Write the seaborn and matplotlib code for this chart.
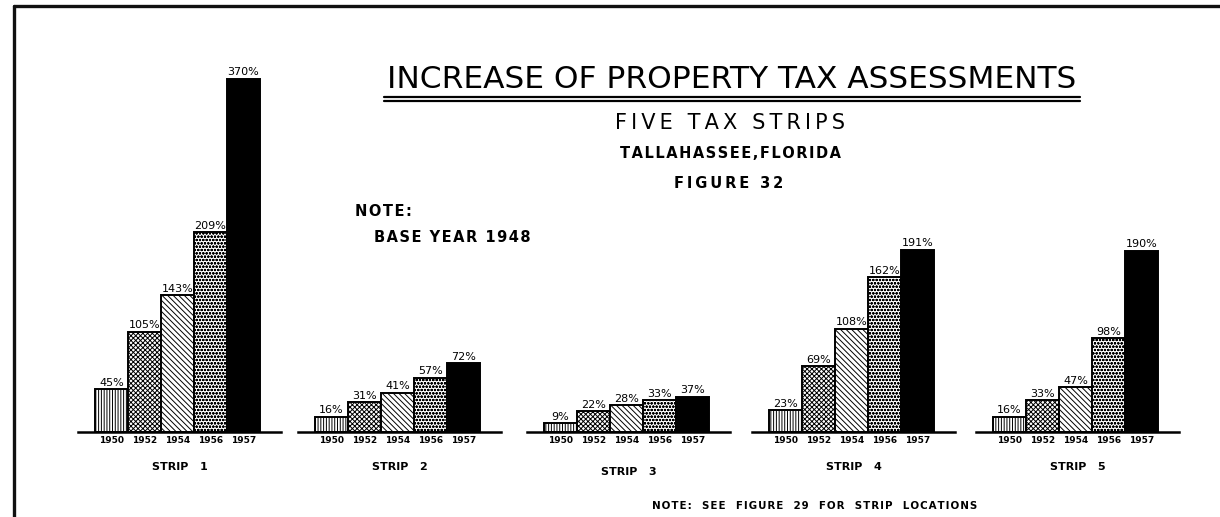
import matplotlib
matplotlib.use("Agg")
import matplotlib.pyplot as plt
from matplotlib.lines import Line2D
import seaborn as sns
import pandas as pd

# Percent increase over the 1948 base year, per strip
years = ["1950", "1952", "1954", "1956", "1957"]
strip_1 = [45, 105, 143, 209, 370]
strip_2 = [16, 31, 41, 57, 72]
strip_3 = [9, 22, 28, 33, 37]
strip_4 = [23, 69, 108, 162, 191]
strip_5 = [16, 33, 47, 98, 190]
strip_names = ["STRIP   1", "STRIP   2", "STRIP   3", "STRIP   4", "STRIP   5"]

hatches = ["||||||", "xxxxxxx", "\\" * 6, "ooooo", ""]
fills = ["white", "white", "white", "white", "black"]

sns.set_theme(style="white")
plt.rcParams["font.family"] = ["DejaVu Sans"]
plt.rcParams["hatch.linewidth"] = 0.7
plt.rcParams["hatch.color"] = "black"

W, H = 1220, 517
fig = plt.figure(figsize=(12.2, 5.17), dpi=100)
fig.patch.set_facecolor("white")

baseline_px = 432
ymax = 400
px_per_pct = 0.955
ax_w = 203
ax_lefts = [78, 298, 527, 752, 976]
label_pads = [12, 12, 16, 12, 12]

series = [strip_1, strip_2, strip_3, strip_4, strip_5]
for i, vals in enumerate(series):
    ax = fig.add_axes([ax_lefts[i] / W, (H - baseline_px) / H,
                       ax_w / W, ymax * px_per_pct / H])
    df = pd.DataFrame({"year": years, "pct": vals})
    sns.barplot(data=df, x="year", y="pct", order=years, width=1.0,
                color="white", edgecolor="black", linewidth=1.4,
                ax=ax, saturation=1)
    for patch, hatch, fc in zip(ax.patches, hatches, fills):
        patch.set_hatch(hatch)
        patch.set_facecolor(fc)
        patch.set_edgecolor("black")
    ax.bar_label(ax.containers[0], labels=[f"{v}%" for v in vals],
                 padding=1, fontsize=8, color="black")
    ax.set_xlim(-1.02, 5.14)
    ax.set_ylim(0, ymax)
    ax.set_facecolor("none")
    for side in ["left", "right", "top"]:
        ax.spines[side].set_visible(False)
    ax.spines["bottom"].set_linewidth(1.8)
    ax.spines["bottom"].set_color("black")
    ax.set_yticks([])
    ax.set_ylabel("")
    ax.tick_params(axis="x", length=0, pad=3, labelsize=6.5, colors="black")
    for t in ax.get_xticklabels():
        t.set_fontweight("bold")
    ax.set_xlabel(strip_names[i], fontsize=8, fontweight="bold",
                  labelpad=label_pads[i], color="black")


def fx(px):
    return px / W


def fy(px):
    return 1 - px / H


def spaced(s, gap="\u2009"):
    """Open up the letter spacing of hand-lettered captions."""
    return gap.join(s)


# Title block
fig.text(fx(732), fy(79), "INCREASE OF PROPERTY TAX ASSESSMENTS",
         ha="center", va="center", fontsize=22.5, color="black")
for y in (97, 101):
    fig.add_artist(Line2D([fx(384), fx(1080)], [fy(y), fy(y)],
                          color="black", linewidth=1.6))
fig.text(fx(730), fy(123), spaced("FIVE TAX STRIPS"), ha="center", va="center",
         fontsize=15, color="black")
fig.text(fx(730), fy(153), spaced("TALLAHASSEE,FLORIDA", "\u200a"),
         ha="center", va="center", fontsize=10.5, fontweight="bold", color="black")
fig.text(fx(729), fy(184), spaced("FIGURE 32"), ha="center", va="center",
         fontsize=10.5, fontweight="bold", color="black")

# Side notes
fig.text(fx(355), fy(211), spaced("NOTE:", "\u200a"), ha="left", va="center",
         fontsize=10.5, fontweight="bold", color="black")
fig.text(fx(374), fy(237), spaced("BASE YEAR 1948", "\u200a"), ha="left", va="center",
         fontsize=10.5, fontweight="bold", color="black")
fig.text(fx(652), fy(506), spaced("NOTE:  SEE  FIGURE  29  FOR  STRIP  LOCATIONS", "\u200a"),
         ha="left", va="center", fontsize=7.4, fontweight="bold", color="black")

# Drawing frame
fig.add_artist(Line2D([fx(14), 1.0], [fy(6), fy(6)], color="#111111", linewidth=2.4))
fig.add_artist(Line2D([fx(14), fx(14)], [0.0, fy(6)], color="#111111", linewidth=2.4))

fig.savefig("out.png", dpi=100, facecolor="white")
